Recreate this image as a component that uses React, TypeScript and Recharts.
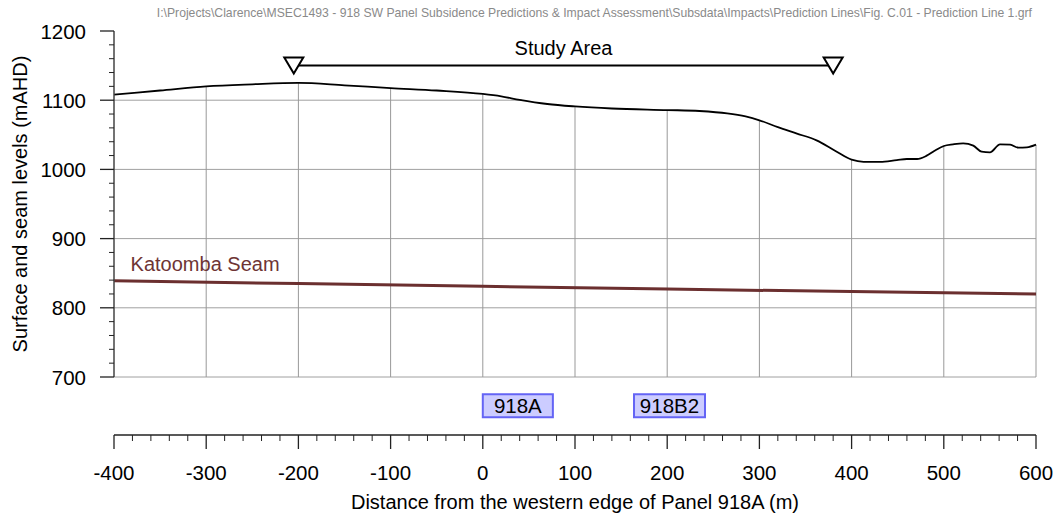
import React from 'react';
import {
  ComposedChart, Line, XAxis, YAxis, ReferenceLine, ReferenceArea, ReferenceDot
} from 'recharts';

const FONT = '"Liberation Sans", Arial, sans-serif';

// surface profile along prediction line 1
const surfaceX = [
  -400, -350, -300, -250, -200, -150, -100, -50, 0, 20, 40, 70, 100, 140, 200, 235, 265, 285,
  300, 320, 340, 362, 382, 400, 413, 431, 449, 460, 471, 481, 490, 500, 510, 521, 532, 541,
  550, 561, 572, 581, 590, 600,
];
const surfaceLevel = [
  1108, 1114, 1120, 1123, 1125, 1121.5, 1117.5, 1114, 1109, 1105.5, 1100.5, 1094.5, 1091, 1088, 1085.8, 1084.4, 1081, 1076.5,
  1071, 1061, 1052, 1042, 1027, 1014, 1011, 1011, 1013.5, 1015, 1015, 1019.5, 1027, 1033.8, 1036.2, 1037.7, 1034.3, 1025.6,
  1024.7, 1036.2, 1035.7, 1031.4, 1031.8, 1035.7,
];

// Katoomba seam floor
const seamX = [-400, -200, 0, 200, 400, 600];
const seamLevel = [839, 835, 831, 827, 823.5, 820];

// study area extent
const studyAreaX = [-205, 380];
const studyAreaLevel = 1150;

// panel labels
const panelNames = ['918A', '918B2'];
const panelStart = [0, 164];
const panelEnd = [76, 241];
const PANEL_LOW = 642;
const PANEL_HIGH = 675;

const xGridValues = [-300, -200, -100, 0, 100, 200, 300, 400, 500, 600];
const yGridValues = [700, 800, 900, 1000, 1100];

const xTicks: number[] = [];
for (let v = -400; v <= 600; v += 20) xTicks.push(v);
const yTicks: number[] = [];
for (let v = 700; v <= 1200; v += 20) yTicks.push(v);

const surfaceData = surfaceX.map((x, i) => ({ x, y: surfaceLevel[i] }));
const seamData = seamX.map((x, i) => ({ x, y: seamLevel[i] }));
const studyData = studyAreaX.map((x) => ({ x, y: studyAreaLevel }));

const PLOT_RIGHT = 1036;

function levelAt(x: number) {
  for (let i = 1; i < surfaceX.length; i++) {
    if (x <= surfaceX[i]) {
      const t = (x - surfaceX[i - 1]) / (surfaceX[i] - surfaceX[i - 1]);
      return surfaceLevel[i - 1] + t * (surfaceLevel[i] - surfaceLevel[i - 1]);
    }
  }
  return surfaceLevel[surfaceLevel.length - 1];
}

// where the surface first drops below a level (for clipping horizontal grid)
function gridEnd(level: number) {
  for (let i = 1; i < surfaceX.length; i++) {
    if (surfaceLevel[i] < level) {
      const t = (surfaceLevel[i - 1] - level) / (surfaceLevel[i - 1] - surfaceLevel[i]);
      return surfaceX[i - 1] + t * (surfaceX[i] - surfaceX[i - 1]);
    }
  }
  return 600;
}

const XTick = ({ x, y, payload, index }: any) => {
  const base = y + 58;
  const major = payload.value % 100 === 0;
  return (
    <g>
      {index === 0 && <line x1={x} x2={PLOT_RIGHT} y1={base} y2={base} stroke="#222" strokeWidth={1.3} />}
      <line x1={x} x2={x} y1={base} y2={base + (major ? 14 : 6)} stroke="#222" strokeWidth={major ? 1.3 : 1} />
      {major && (
        <text x={x} y={base + 37} textAnchor="middle" dominantBaseline="central"
          fontSize={20.5} fontFamily={FONT} fill="#000">
          {payload.value}
        </text>
      )}
    </g>
  );
};

const YTick = ({ x, y, payload }: any) => {
  const major = payload.value % 100 === 0;
  return (
    <g>
      <line x1={x - (major ? 14 : 5)} x2={x} y1={y} y2={y} stroke="#222" strokeWidth={major ? 1.3 : 1} />
      {major && (
        <text x={x - 28} y={y} textAnchor="end" dominantBaseline="central"
          fontSize={20.5} fontFamily={FONT} fill="#000">
          {payload.value}
        </text>
      )}
    </g>
  );
};

const Triangle = ({ cx, cy }: any) => (
  <polygon
    points={`${cx - 9.5},${cy - 8} ${cx + 9.5},${cy - 8} ${cx},${cy + 8}`}
    fill="#fff" stroke="#000" strokeWidth={2}
  />
);

const TextAt = ({ viewBox, value, fill = '#000', anchor = 'middle', dy = 0 }: any) => (
  <text x={viewBox.x} y={viewBox.y + dy} textAnchor={anchor} fontSize={20} fontFamily={FONT} fill={fill}>
    {value}
  </text>
);

export default function App() {
  return (
    <div style={{ position: 'absolute', left: 0, top: 0, width: 1055, height: 513, background: '#fff' }}>
      <div style={{
        position: 'absolute', right: 23, top: 6, fontFamily: FONT, fontSize: 12.2,
        color: '#8a8a8a', whiteSpace: 'nowrap',
      }}>
        I:\Projects\Clarence\MSEC1493 - 918 SW Panel Subsidence Predictions &amp; Impact Assessment\Subsdata\Impacts\Prediction Lines\Fig. C.01 - Prediction Line 1.grf
      </div>
      <ComposedChart width={1055} height={513} margin={{ top: 31, right: 19, bottom: 0, left: 0 }}>
        <XAxis
          type="number" dataKey="x" domain={[-400, 600]} ticks={xTicks} interval={0}
          axisLine={false} tickLine={false} tickSize={0} tickMargin={0} height={136}
          tick={<XTick />}
          label={{
            content: ({ viewBox }: any) => (
              <text x={viewBox.x + viewBox.width / 2} y={viewBox.y + 132} textAnchor="middle"
                fontSize={20} fontFamily={FONT} fill="#000">
                Distance from the western edge of Panel 918A (m)
              </text>
            ),
          }}
        />
        <YAxis
          type="number" domain={[700, 1200]} ticks={yTicks} interval={0} allowDataOverflow
          axisLine={{ stroke: '#444', strokeWidth: 1.5 }} tickLine={false} tickSize={0} tickMargin={0} width={114}
          tick={<YTick />}
          label={{
            content: ({ viewBox }: any) => {
              const cx = viewBox.x + 20;
              const cy = viewBox.y + viewBox.height / 2;
              return (
                <text x={cx} y={cy} transform={`rotate(-90 ${cx} ${cy})`} textAnchor="middle"
                  dominantBaseline="central" fontSize={20} fontFamily={FONT} fill="#000">
                  Surface and seam levels (mAHD)
                </text>
              );
            },
          }}
        />

        {yGridValues.map((v) => (
          <ReferenceLine key={'h' + v} segment={[{ x: -400, y: v }, { x: gridEnd(v), y: v }]}
            stroke="#a0a0a0" strokeWidth={1} />
        ))}
        {xGridValues.map((v) => (
          <ReferenceLine key={'v' + v} segment={[{ x: v, y: 700 }, { x: v, y: levelAt(v) }]}
            stroke="#999" strokeWidth={1} />
        ))}

        {panelNames.map((name, i) => (
          <ReferenceArea key={name} x1={panelStart[i]} x2={panelEnd[i]} y1={PANEL_LOW} y2={PANEL_HIGH}
            ifOverflow="visible" fill="#ccccff" fillOpacity={1} stroke="#6464f5" strokeWidth={2}
            label={{ value: name, position: 'center', fill: '#000', fontSize: 20.5, fontFamily: FONT }} />
        ))}

        <Line data={seamData} dataKey="y" type="linear" stroke="#6b2f2f" strokeWidth={3}
          dot={false} isAnimationActive={false} />
        <Line data={surfaceData} dataKey="y" type="monotone" stroke="#000" strokeWidth={1.8}
          dot={false} isAnimationActive={false} />
        <Line data={studyData} dataKey="y" type="linear" stroke="#000" strokeWidth={2}
          dot={<Triangle />} isAnimationActive={false} />

        <ReferenceDot x={(studyAreaX[0] + studyAreaX[1]) / 2} y={studyAreaLevel} r={0}
          label={<TextAt value="Study Area" dy={-11} />} />
        <ReferenceDot x={-382} y={853} r={0}
          label={<TextAt value="Katoomba Seam" anchor="start" fill="#6e3434" />} />
      </ComposedChart>
    </div>
  );
}
